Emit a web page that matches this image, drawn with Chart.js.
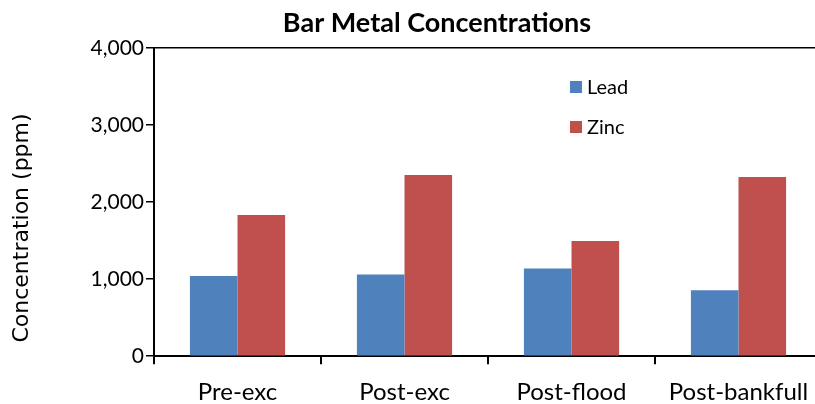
<!DOCTYPE html>
<html>
<head>
<meta charset="utf-8">
<script src="https://cdn.jsdelivr.net/npm/chart.js@4"></script>
<style>
  html, body { margin: 0; padding: 0; background: #fff; overflow: hidden; }
  #wrap { width: 824px; height: 404px; }
</style>
</head>
<body>
<div id="wrap"><canvas id="chart" width="824" height="404"></canvas></div>
<script>
const categories = ["Pre-exc", "Post-exc", "Post-flood", "Post-bankfull"];
const leadValues = [1042, 1059, 1137, 856];
const zincValues = [1834, 2352, 1496, 2326];
const yTicks = [0, 1000, 2000, 3000, 4000];

const tickFont = "Lato, 'Open Sans', sans-serif";

// title, rotated y label and the in-plot legend are drawn by hand
const overlay = {
  id: "overlay",
  afterDraw(chart) {
    const ctx = chart.ctx;
    ctx.save();
    ctx.fillStyle = "#000";
    ctx.textAlign = "center";
    ctx.textBaseline = "middle";
    ctx.font = "bold 27px " + tickFont;
    ctx.fillText("Bar Metal Concentrations", 437, 23);

    ctx.save();
    ctx.translate(22, 228);
    ctx.rotate(-Math.PI / 2);
    ctx.font = "22px 'DejaVu Sans', sans-serif";
    ctx.fillText("Concentration (ppm)", 0, 0);
    ctx.restore();

    ctx.textAlign = "left";
    ctx.font = "20px " + tickFont;
    chart.data.datasets.forEach((ds, i) => {
      const y = 87 + i * 40;
      ctx.fillStyle = ds.backgroundColor;
      ctx.fillRect(570, y - 6, 12, 12);
      ctx.fillStyle = "#000";
      ctx.fillText(ds.label, 587, y + 1);
    });
    ctx.restore();
  }
};

new Chart(document.getElementById("chart"), {
  type: "bar",
  data: {
    labels: categories,
    datasets: [
      { label: "Lead", data: leadValues, backgroundColor: "#4F81BD" },
      { label: "Zinc", data: zincValues, backgroundColor: "#C0504D" }
    ]
  },
  options: {
    responsive: false,
    animation: false,
    layout: { padding: { top: 48, right: 2, bottom: -17, left: 0 } },
    plugins: { legend: { display: false }, title: { display: false }, tooltip: { enabled: false } },
    datasets: { bar: { barPercentage: 1, categoryPercentage: 0.57 } },
    scales: {
      x: {
        grid: { drawOnChartArea: false, tickLength: 8, tickColor: "#000", lineWidth: 2 },
        border: { color: "#000", width: 2 },
        ticks: { color: "#000", font: { family: tickFont, size: 24 }, padding: 14 }
      },
      y: {
        min: 0,
        max: 4000,
        afterBuildTicks: scale => { scale.ticks = yTicks.map(v => ({ value: v })); },
        afterFit: scale => { scale.width = 154; },
        grid: {
          color: c => (c.tick && c.tick.value === 4000 ? "#000" : "transparent"),
          tickColor: "#000",
          tickLength: 8,
          lineWidth: 1.5
        },
        border: { color: "#000", width: 2 },
        ticks: { color: "#000", font: { family: tickFont, size: 21 }, padding: 2 }
      }
    }
  },
  plugins: [overlay]
});
</script>
</body>
</html>
